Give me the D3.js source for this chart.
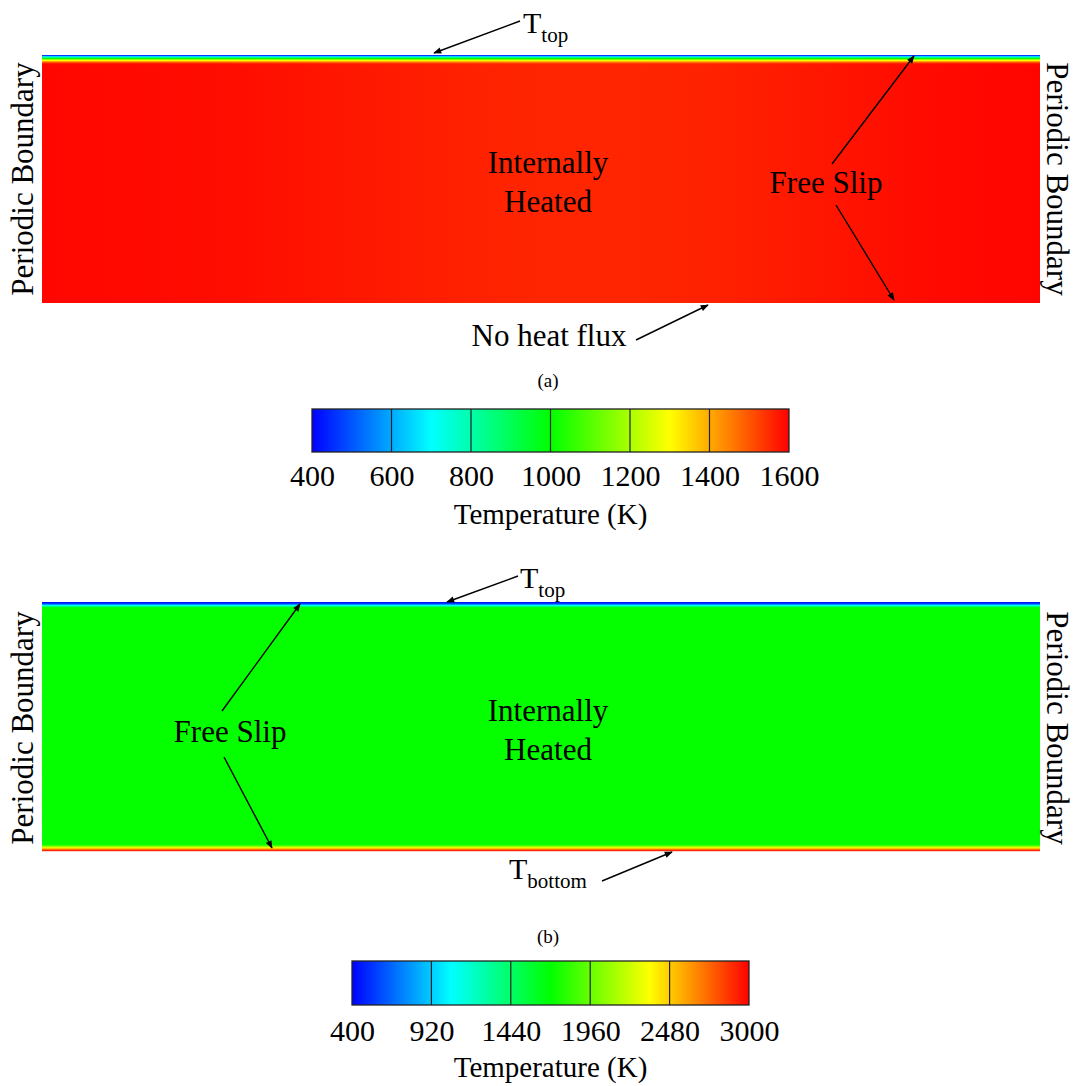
<!DOCTYPE html>
<html>
<head>
<meta charset="utf-8">
<script src="https://cdn.jsdelivr.net/npm/d3@7/dist/d3.min.js"></script>
<style>
  html, body { margin: 0; padding: 0; background: #fff; }
  svg { display: block; }
  text { font-family: "Liberation Serif", "DejaVu Serif", serif; fill: #000; }
</style>
</head>
<body>
<svg id="fig" width="1076" height="1086"></svg>
<script>
const SERIF = '"Liberation Serif", "DejaVu Serif", serif';

// ---- Case (a): internally heated slab, cooled from the top, insulated bottom ----
// interior temperature (K) across the box, x as fraction of width
const aInteriorX = [0, 0.1, 0.2, 0.3, 0.4, 0.5, 0.6, 0.7, 0.8, 0.9, 1];
const aInteriorT = [1592, 1590, 1584, 1574, 1563, 1556, 1556, 1563, 1577, 1589, 1594];
// thermal boundary layer under the top surface: depth (fraction of height) vs
// fraction of the way from the top temperature to the interior temperature
const aTopDepth = [0, 0.004, 0.008, 0.012, 0.016, 0.020, 0.024, 0.028, 0.032, 0.036];
const aTopTheta = [0, 0.12, 0.30, 0.45, 0.58, 0.70, 0.80, 0.89, 0.95, 1];
const aTopT = 400;
const aScaleTicks = [400, 600, 800, 1000, 1200, 1400, 1600];

// ---- Case (b): internally heated slab with fixed top and bottom temperatures ----
const bInteriorT = 1712;
const bTopDepth = [0, 0.004, 0.008, 0.012, 0.016, 0.020, 0.024];
const bTopTemp = [400, 480, 640, 900, 1250, 1560, 1712];
const bBottomHeight = [0, 0.004, 0.008, 0.012, 0.016, 0.020, 0.024, 0.028];
const bBottomTemp = [3000, 2880, 2650, 2420, 2230, 2000, 1800, 1712];
const bScaleTicks = [400, 920, 1440, 1960, 2480, 3000];

// jet-like colour map: blue -> cyan -> green -> yellow -> red
const jetColors = ["#0000ff", "#00ffff", "#00ff00", "#ffff00", "#ff0000"];
function makeColormap(lo, hi) {
  const stops = d3.range(5).map(i => lo + (hi - lo) * i / 4);
  return d3.scaleLinear().domain(stops).range(jetColors).interpolate(d3.interpolateRgb).clamp(true);
}
const colorA = makeColormap(400, 1600);
const colorB = makeColormap(400, 3000);

const svg = d3.select("#fig");
const defs = svg.append("defs");
defs.append("marker")
  .attr("id", "head").attr("viewBox", "0 0 10 10")
  .attr("refX", 9).attr("refY", 5)
  .attr("markerWidth", 11).attr("markerHeight", 8)
  .attr("markerUnits", "userSpaceOnUse")
  .attr("orient", "auto")
  .append("path").attr("d", "M0,1 L10,5 L0,9 Z").attr("fill", "#000");

let gradId = 0;
function hGradient(xFracs, temps, cmap) {
  const id = "g" + (gradId++);
  const g = defs.append("linearGradient").attr("id", id)
    .attr("x1", "0%").attr("x2", "100%").attr("y1", "0%").attr("y2", "0%");
  xFracs.forEach((f, i) => {
    g.append("stop").attr("offset", (f * 100) + "%").attr("stop-color", cmap(temps[i]));
  });
  return "url(#" + id + ")";
}

const boxLeft = 42, boxRight = 1040;
const xPos = d3.scaleLinear().domain([0, 1]).range([boxLeft, boxRight]);

// ---------- panel (a) ----------
(function () {
  const top = 55, bottom = 303;
  const yDepth = d3.scaleLinear().domain([0, 1]).range([top, bottom]);
  const g = svg.append("g");
  const tInterior = d3.scaleLinear().domain(aInteriorX).range(aInteriorT);
  const theta = d3.scaleLinear().domain(aTopDepth).range(aTopTheta).clamp(true);
  const layerBottom = yDepth(aTopDepth[aTopDepth.length - 1]);
  // interior
  g.append("rect")
    .attr("x", xPos(0)).attr("width", xPos(1) - xPos(0))
    .attr("y", layerBottom).attr("height", bottom - layerBottom)
    .attr("fill", hGradient(aInteriorX, aInteriorT, colorA));
  // boundary layer, one pixel row at a time
  for (let y = top; y < layerBottom; y += 1) {
    const d = yDepth.invert(y + 0.5);
    const th = theta(d);
    const temps = aInteriorX.map(f => aTopT + (tInterior(f) - aTopT) * th);
    g.append("rect")
      .attr("x", xPos(0)).attr("width", xPos(1) - xPos(0))
      .attr("y", y).attr("height", Math.min(1.2, layerBottom - y + 0.2))
      .attr("fill", hGradient(aInteriorX, temps, colorA));
  }
})();

// ---------- panel (b) ----------
(function () {
  const top = 602, bottom = 851;
  const yDepth = d3.scaleLinear().domain([0, 1]).range([top, bottom]);
  const g = svg.append("g");
  g.append("rect")
    .attr("x", xPos(0)).attr("width", xPos(1) - xPos(0))
    .attr("y", top).attr("height", bottom - top)
    .attr("fill", colorB(bInteriorT));
  const topT = d3.scaleLinear().domain(bTopDepth).range(bTopTemp).clamp(true);
  const botT = d3.scaleLinear().domain(bBottomHeight).range(bBottomTemp).clamp(true);
  const topEnd = yDepth(bTopDepth[bTopDepth.length - 1]);
  for (let y = top; y < topEnd; y += 1) {
    g.append("rect").attr("x", xPos(0)).attr("width", xPos(1) - xPos(0))
      .attr("y", y).attr("height", 1.2)
      .attr("fill", colorB(topT(yDepth.invert(y + 0.5))));
  }
  const botStart = yDepth(1 - bBottomHeight[bBottomHeight.length - 1]);
  for (let y = bottom - 1; y >= botStart; y -= 1) {
    g.append("rect").attr("x", xPos(0)).attr("width", xPos(1) - xPos(0))
      .attr("y", y).attr("height", 1.2)
      .attr("fill", colorB(botT(1 - yDepth.invert(y + 0.5))));
  }
})();

// ---------- colour bars ----------
function colorbar(ticks, cmap, x0, x1, y0, y1, labelY, titleY) {
  const lo = ticks[0], hi = ticks[ticks.length - 1];
  const sc = d3.scaleLinear().domain([lo, hi]).range([x0, x1]);
  const samples = d3.range(0, 41).map(i => lo + (hi - lo) * i / 40);
  const id = "cb" + (gradId++);
  const grad = defs.append("linearGradient").attr("id", id)
    .attr("x1", "0%").attr("x2", "100%").attr("y1", "0%").attr("y2", "0%");
  samples.forEach(v => grad.append("stop")
    .attr("offset", ((v - lo) / (hi - lo) * 100) + "%").attr("stop-color", cmap(v)));
  const g = svg.append("g");
  g.append("rect").attr("x", x0).attr("y", y0).attr("width", x1 - x0).attr("height", y1 - y0)
    .attr("fill", "url(#" + id + ")");
  g.selectAll("line.div").data(ticks.slice(1, -1)).join("line")
    .attr("class", "div")
    .attr("x1", d => sc(d)).attr("x2", d => sc(d)).attr("y1", y0).attr("y2", y1)
    .attr("stroke", "#222").attr("stroke-width", 1.2);
  g.append("rect").attr("x", x0).attr("y", y0).attr("width", x1 - x0).attr("height", y1 - y0)
    .attr("fill", "none").attr("stroke", "#222").attr("stroke-width", 1.3);
  const axis = d3.axisBottom(sc).tickValues(ticks).tickSize(0).tickPadding(0).tickFormat(d3.format("d"));
  const ag = g.append("g").attr("transform", `translate(0,${labelY})`).call(axis);
  ag.attr("font-family", null).attr("font-size", null);
  ag.select(".domain").remove();
  ag.selectAll("text").attr("dy", 0).attr("y", 0)
    .style("font-family", SERIF).style("font-size", "30px").attr("fill", "#000");
  g.append("text").attr("x", (x0 + x1) / 2).attr("y", titleY).attr("text-anchor", "middle")
    .style("font-family", SERIF).style("font-size", "29px").text("Temperature (K)");
}
colorbar(aScaleTicks, colorA, 312, 789, 409, 452, 486, 524);
colorbar(bScaleTicks, colorB, 352, 749, 961, 1005, 1041, 1077);

// ---------- annotations ----------
const ann = svg.append("g");
function label(x, y, txt, size, anchor) {
  return ann.append("text").attr("x", x).attr("y", y).attr("text-anchor", anchor || "middle")
    .style("font-family", SERIF).style("font-size", size + "px").text(txt);
}
function arrow(x1, y1, x2, y2) {
  ann.append("line").attr("x1", x1).attr("y1", y1).attr("x2", x2).attr("y2", y2)
    .attr("stroke", "#000").attr("stroke-width", 1.4).attr("marker-end", "url(#head)");
}
function subLabel(x, y, main, sub) {
  const t = ann.append("text").attr("x", x).attr("y", y)
    .style("font-family", SERIF).style("font-size", "30px");
  t.append("tspan").text(main);
  t.append("tspan").attr("dy", 9).style("font-size", "21px").text(sub);
}
function vertical(x, y, angle, txt) {
  ann.append("text").attr("transform", `translate(${x},${y}) rotate(${angle})`)
    .attr("text-anchor", "middle").style("font-family", SERIF).style("font-size", "31px").text(txt);
}

// (a)
subLabel(523, 33, "T", "top");
arrow(520, 21, 434, 53);
vertical(33, 179, -90, "Periodic Boundary");
vertical(1047, 179, 90, "Periodic Boundary");
label(548, 173, "Internally", 31);
label(548, 212, "Heated", 31);
label(826, 193, "Free Slip", 31);
arrow(832, 164, 914, 56);
arrow(836, 205, 894, 300);
label(549, 346, "No heat flux", 31);
arrow(636, 340, 708, 305);
label(548, 387, "(a)", 19);

// (b)
subLabel(520, 588, "T", "top");
arrow(518, 576, 447, 602);
vertical(33, 728, -90, "Periodic Boundary");
vertical(1047, 728, 90, "Periodic Boundary");
label(548, 721, "Internally", 31);
label(548, 760, "Heated", 31);
label(230, 742, "Free Slip", 31);
arrow(222, 711, 300, 604);
arrow(224, 757, 272, 848);
subLabel(509, 879, "T", "bottom");
arrow(602, 881, 672, 852);
label(548, 943, "(b)", 19);
</script>
</body>
</html>
